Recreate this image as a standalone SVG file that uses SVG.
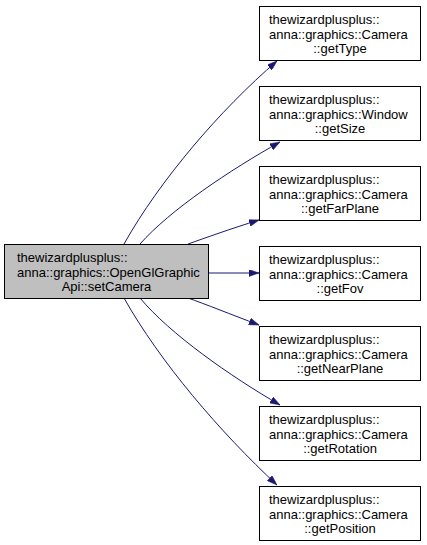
<svg xmlns="http://www.w3.org/2000/svg" width="427" height="545" viewBox="0 0 427 545">
<style>
.n rect{fill:#ffffff;stroke:#000000;stroke-width:1}
.m rect{fill:#bfbfbf;stroke:#000000;stroke-width:1}
text{font-family:"Liberation Sans",Arial,Helvetica,sans-serif;font-size:13px;fill:#000000}
.c{text-anchor:middle}
.e path{fill:none;stroke:#191970;stroke-width:1;marker-end:url(#arr)}
</style>
<defs>
<marker id="arr" viewBox="0 0 10 7" refX="10" refY="3.5" markerWidth="10" markerHeight="7" markerUnits="userSpaceOnUse" orient="auto">
<path d="M0,0 L10,3.5 L0,7 z" fill="#191970" stroke="#191970" stroke-width="0.5"/>
</marker>
</defs>
<g id="edges" class="e">
<path d="M124,244 C160,180 220,110 277,61"/>
<path d="M140,244 C170,210 230,170 280,142"/>
<path d="M188,244 C205,238 230,229 259,220"/>
<path d="M209,273 L259,273"/>
<path d="M188,298 C205,304 230,314 259,325"/>
<path d="M140,298 C170,334 230,376 280,405"/>
<path d="M124,298 C160,362 220,432 277,485"/>
</g>
<g id="main" class="m">
<rect x="4.5" y="244.5" width="204" height="54"/>
<text x="17" y="262">thewizardplusplus::</text>
<text x="17" y="276.5">anna::graphics::OpenGlGraphic</text>
<text class="c" x="106.5" y="291">Api::setCamera</text>
</g>
<g id="getType" class="n">
<rect x="259.5" y="6.5" width="161" height="54"/>
<text x="269" y="24">thewizardplusplus::</text>
<text x="269" y="38.5">anna::graphics::Camera</text>
<text class="c" x="340" y="53">::getType</text>
</g>
<g id="getSize" class="n">
<rect x="259.5" y="86.5" width="161" height="54"/>
<text x="269" y="104">thewizardplusplus::</text>
<text x="269" y="118.5">anna::graphics::Window</text>
<text class="c" x="340" y="133">::getSize</text>
</g>
<g id="getFarPlane" class="n">
<rect x="259.5" y="166.5" width="161" height="54"/>
<text x="269" y="184">thewizardplusplus::</text>
<text x="269" y="198.5">anna::graphics::Camera</text>
<text class="c" x="340" y="213">::getFarPlane</text>
</g>
<g id="getFov" class="n">
<rect x="259.5" y="246.5" width="161" height="54"/>
<text x="269" y="264">thewizardplusplus::</text>
<text x="269" y="278.5">anna::graphics::Camera</text>
<text class="c" x="340" y="293">::getFov</text>
</g>
<g id="getNearPlane" class="n">
<rect x="259.5" y="326.5" width="161" height="54"/>
<text x="269" y="344">thewizardplusplus::</text>
<text x="269" y="358.5">anna::graphics::Camera</text>
<text class="c" x="340" y="373">::getNearPlane</text>
</g>
<g id="getRotation" class="n">
<rect x="259.5" y="406.5" width="161" height="54"/>
<text x="269" y="424">thewizardplusplus::</text>
<text x="269" y="438.5">anna::graphics::Camera</text>
<text class="c" x="340" y="453">::getRotation</text>
</g>
<g id="getPosition" class="n">
<rect x="259.5" y="486.5" width="161" height="54"/>
<text x="269" y="504">thewizardplusplus::</text>
<text x="269" y="518.5">anna::graphics::Camera</text>
<text class="c" x="340" y="533">::getPosition</text>
</g>
</svg>
